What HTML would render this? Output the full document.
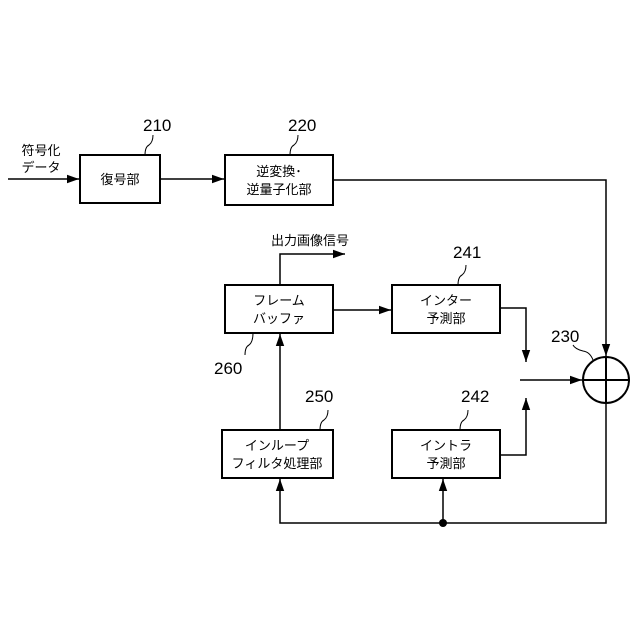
<!DOCTYPE html>
<html><head><meta charset="utf-8"><style>body{margin:0;background:#fff}svg{display:block}text{font-family:"Liberation Sans","Noto Sans CJK JP",sans-serif;fill:#000}</style></head><body>
<svg width="640" height="640" viewBox="0 0 640 640" xmlns="http://www.w3.org/2000/svg">
<defs><marker id="a" viewBox="0 0 10 10" refX="10" refY="5" markerWidth="8" markerHeight="8" orient="auto"><path d="M0,1.5L10,5L0,8.5z" fill="#000"/></marker></defs>
<g fill="none" stroke="#000" stroke-width="2">
<rect x="80" y="155" width="80" height="48"/>
<rect x="225" y="155" width="108" height="50"/>
<rect x="225" y="285" width="108" height="48"/>
<rect x="392" y="285" width="108" height="48"/>
<rect x="392" y="430" width="108" height="48"/>
<rect x="222" y="430" width="111" height="48"/>
<circle cx="606" cy="380" r="23"/>
<line x1="583" y1="380" x2="629" y2="380"/><line x1="606" y1="357" x2="606" y2="403"/>
</g>
<g fill="none" stroke="#000" stroke-width="1.5">
<line x1="8" y1="179" x2="79" y2="179" marker-end="url(#a)"/>
<line x1="160" y1="179" x2="224" y2="179" marker-end="url(#a)"/>
<polyline points="333,180 606,180 606,356" marker-end="url(#a)"/>
<line x1="333" y1="310" x2="391" y2="310" marker-end="url(#a)"/>
<polyline points="280,285 280,254 345,254" marker-end="url(#a)"/>
<polyline points="500,308 526,308 526,362" marker-end="url(#a)"/>
<polyline points="500,455 526,455 526,398" marker-end="url(#a)"/>
<line x1="520" y1="380" x2="582" y2="380" marker-end="url(#a)"/>
<line x1="280" y1="430" x2="280" y2="334" marker-end="url(#a)"/>
<polyline points="606,403 606,523 280,523 280,479" marker-end="url(#a)"/>
<line x1="443" y1="523" x2="443" y2="479" marker-end="url(#a)"/>
<path d="M145,155 q0,-8 4,-10 q4,-3 4,-10" stroke-width="1"/>
<path d="M290,155 q0,-8 4,-10 q4,-3 4,-10" stroke-width="1"/>
<path d="M458,285 q0,-8 4,-10 q4,-3 4,-10" stroke-width="1"/>
<path d="M320,430 q0,-8 4,-10 q4,-3 4,-10" stroke-width="1"/>
<path d="M460,430 q0,-8 4,-10 q4,-3 4,-10" stroke-width="1"/>
<path d="M245,355 q0,-8 4,-10 q4,-3 4,-12" stroke-width="1"/>
<path d="M593,360 q-3,-8 -10,-9 q-8,-2 -10,-6" stroke-width="1"/>
</g>
<circle cx="443" cy="523" r="4" fill="#000"/>
<g font-size="17">
<text x="143" y="131">210</text><text x="288" y="131">220</text>
<text x="453" y="258">241</text><text x="551" y="342">230</text>
<text x="214" y="374">260</text><text x="305" y="402">250</text>
<text x="461" y="402">242</text>
</g>
<g font-size="13" text-anchor="middle">
<text x="41" y="155">符号化</text><text x="41" y="172">データ</text>
<text x="120" y="184">復号部</text>
<text x="279" y="176">逆変換･</text><text x="279" y="194">逆量子化部</text>
<text x="310" y="245">出力画像信号</text>
<text x="279" y="305">フレーム</text><text x="279" y="323">バッファ</text>
<text x="446" y="305">インター</text><text x="446" y="323">予測部</text>
<text x="277" y="450">インループ</text><text x="277" y="468">フィルタ処理部</text>
<text x="446" y="450">イントラ</text><text x="446" y="468">予測部</text>
</g>
</svg>
</body></html>
